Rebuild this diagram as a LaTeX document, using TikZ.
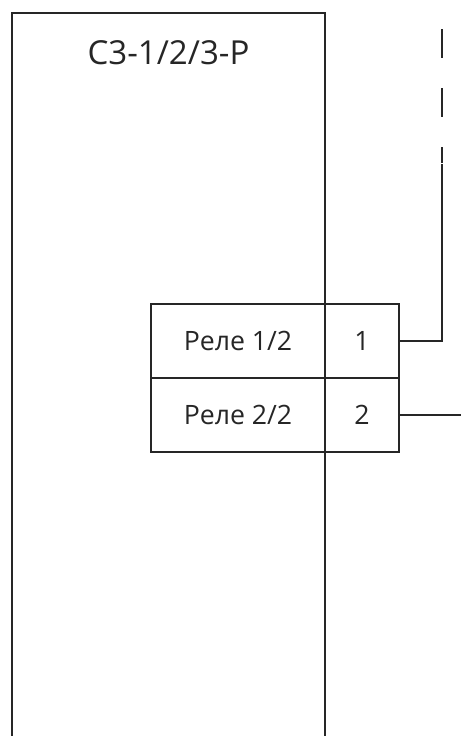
\documentclass[tikz,border=0pt]{standalone}
\usepackage{fontspec}
\setmainfont{Open Sans}
\usetikzlibrary{positioning}
\begin{document}
\begin{tikzpicture}[
		x=0.75pt, y=-0.75pt,
		color={black!85},
		device/.style={draw, rectangle, line width=2.1pt, minimum width=234.75pt, minimum height=570pt, outer sep=0pt, anchor=north west},
		namecell/.style={draw, rectangle, line width=2.1pt, minimum width=130.5pt, minimum height=55.5pt, outer sep=0pt, font=\fontsize{20}{22}\selectfont},
		pincell/.style={draw, rectangle, line width=2.1pt, minimum width=55.5pt, minimum height=55.5pt, outer sep=0pt, font=\fontsize{20}{22}\selectfont},
		wire/.style={draw, line width=2.1pt},
		dashwire/.style={draw, line width=2.1pt, dash pattern=on 21.75pt off 22.5pt}
	]
	\useasboundingbox (0,0) rectangle (461,736);
	% Aparato
	\node[device] (aparato) at (12,13) {};
	\node[font=\fontsize{24.8}{28}\selectfont, below=17pt of aparato.north] (titulo) {С3-1/2/3-Р};
	% Tabla de reles
	\node[namecell, anchor=north west] (rele1) at (151,304) {Реле 1/2};
	\node[pincell, right=0pt of rele1] (pin1) {1};
	\node[namecell, below=0pt of rele1] (rele2) {Реле 2/2};
	\node[pincell, right=0pt of rele2] (pin2) {2};
	% Puntos libres de los cables
	\coordinate (cable1a) at (442,29);
	\coordinate (cable1b) at (442,163);
	\coordinate (cable1c) at (442,164);
	\coordinate (cable2) at (461,0 |- pin2.east);
	% Cables
	\draw[dashwire] (cable1a) -- (cable1b);
	\draw[wire] (cable1c) |- (pin1.east);
	\draw[wire] (pin2.east) -- (cable2);
\end{tikzpicture}
\end{document}
